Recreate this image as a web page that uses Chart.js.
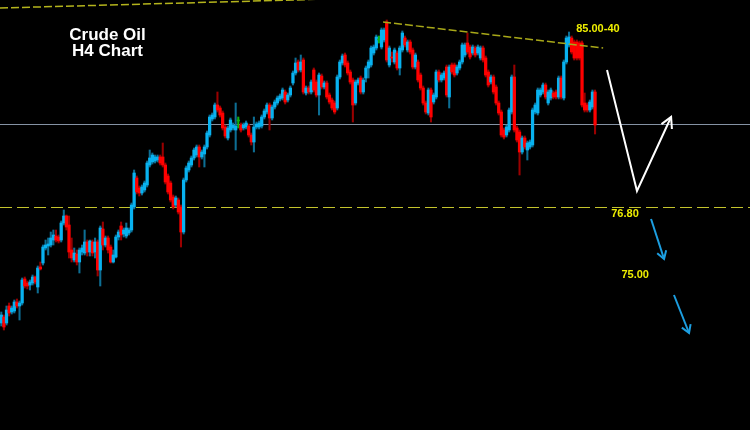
<!DOCTYPE html>
<html>
<head>
<meta charset="utf-8">
<title>Crude Oil H4 Chart</title>
<script src="https://cdn.jsdelivr.net/npm/chart.js@4.4.1/dist/chart.umd.min.js"></script>
<style>
  html, body { margin: 0; padding: 0; background: #000; }
  #wrap { width: 750px; height: 430px; position: relative; }
</style>
</head>
<body>
<div id="wrap"><canvas id="chart"></canvas></div>
<script>
// --- candle data (H4 bars) ---
const opens = [
  71.00, 71.30, 71.00, 71.85, 71.55, 71.60, 72.05, 71.85, 72.00, 73.20,
  73.00, 72.90, 73.00, 73.30, 72.80, 73.80, 74.00, 74.75, 74.85, 74.90,
  75.15, 75.35, 75.30, 75.15, 76.00, 76.35, 75.90, 74.65, 74.15, 74.45,
  74.05, 74.55, 74.50, 75.05, 74.55, 75.05, 74.55, 75.05, 73.65, 75.70,
  74.90, 75.25, 74.80, 74.05, 74.30, 75.30, 75.85, 75.45, 75.35, 75.50,
  75.65, 76.80, 78.25, 77.75, 77.50, 77.65, 77.90, 78.90, 79.05, 79.10,
  79.15, 79.30, 79.30, 78.90, 78.35, 78.00, 77.30, 76.90, 77.15, 76.80,
  75.55, 78.15, 78.65, 78.90, 79.25, 79.40, 79.80, 79.30, 79.45, 79.80,
  80.40, 81.20, 81.30, 81.90, 81.75, 81.50, 80.80, 80.25, 80.65, 80.75,
  80.65, 81.10, 80.90, 80.75, 80.80, 80.85, 80.40, 80.05, 80.80, 80.80,
  80.85, 81.30, 81.55, 81.90, 81.25, 81.80, 82.00, 82.20, 82.25, 82.55,
  82.15, 82.40, 83.00, 83.50, 84.05, 83.65, 84.15, 82.50, 82.75, 82.55,
  83.65, 83.05, 82.40, 83.35, 82.80, 83.00, 82.40, 82.15, 82.00, 81.75,
  83.30, 84.00, 84.40, 84.00, 83.55, 83.15, 82.00, 83.00, 83.25, 82.55,
  83.25, 83.75, 83.90, 84.50, 84.75, 85.15, 84.80, 85.15, 86.05, 83.90,
  84.30, 84.05, 84.50, 83.75, 84.65, 85.25, 84.65, 85.05, 84.65, 83.80,
  84.05, 83.40, 82.75, 82.00, 81.50, 82.65, 82.05, 82.30, 83.55, 83.15,
  83.25, 83.80, 82.30, 83.90, 83.90, 83.50, 83.75, 84.05, 84.40, 85.00,
  84.80, 84.50, 84.75, 84.50, 84.25, 84.75, 84.25, 83.55, 83.05, 83.30,
  82.80, 82.00, 81.55, 80.65, 80.40, 80.65, 81.55, 83.30, 80.75, 80.55,
  79.55, 80.25, 79.65, 79.80, 79.90, 81.55, 81.50, 82.40, 82.55, 82.90,
  82.00, 82.25, 82.50, 82.55, 82.30, 83.25, 82.25, 84.05, 84.90, 85.25,
  85.05, 85.05, 85.00, 85.00, 82.00, 81.90, 81.65, 81.80, 82.55
];
const highs = [
  71.55, 71.40, 71.85, 72.00, 71.85, 72.15, 72.20, 72.10, 73.25, 73.30,
  73.10, 73.15, 73.40, 73.35, 73.85, 74.05, 74.90, 75.15, 75.25, 75.55,
  75.65, 75.65, 75.40, 76.10, 76.65, 76.40, 76.35, 75.25, 74.75, 74.65,
  74.75, 74.90, 75.65, 75.15, 75.15, 75.15, 75.25, 75.15, 75.85, 76.05,
  75.35, 75.35, 74.90, 74.65, 75.40, 75.65, 76.05, 75.75, 76.00, 75.75,
  77.00, 78.65, 78.35, 77.85, 77.90, 78.10, 79.10, 79.65, 79.50, 79.40,
  79.40, 79.40, 80.00, 79.00, 78.45, 78.10, 77.40, 77.35, 77.25, 76.90,
  78.25, 78.85, 79.10, 79.35, 79.75, 79.90, 79.90, 79.65, 79.90, 80.60,
  81.40, 81.50, 82.00, 82.55, 81.85, 81.60, 80.90, 80.85, 81.25, 81.00,
  82.00, 81.30, 81.00, 81.00, 81.10, 80.95, 80.50, 81.30, 81.05, 81.10,
  81.40, 81.70, 82.00, 82.00, 81.90, 82.15, 82.35, 82.45, 82.75, 82.65,
  82.50, 82.85, 83.60, 84.25, 84.15, 84.40, 84.25, 82.85, 82.85, 83.15,
  83.75, 83.15, 83.50, 83.45, 83.10, 83.10, 82.50, 82.25, 82.10, 83.40,
  84.15, 84.45, 84.50, 84.10, 83.65, 83.25, 83.15, 83.25, 83.35, 83.25,
  83.85, 84.15, 84.85, 84.90, 85.40, 85.35, 85.75, 85.75, 86.15, 84.85,
  84.55, 84.75, 84.60, 84.85, 85.60, 85.35, 85.15, 85.15, 84.75, 84.50,
  84.15, 83.50, 82.85, 82.10, 82.75, 82.75, 82.50, 83.65, 83.65, 83.50,
  83.60, 83.90, 83.90, 84.00, 84.00, 83.90, 84.15, 85.00, 85.00, 85.50,
  84.90, 84.90, 84.85, 84.90, 84.85, 84.85, 84.35, 83.65, 83.40, 83.40,
  82.90, 82.10, 81.65, 80.75, 80.90, 81.75, 83.40, 83.90, 80.85, 80.65,
  80.35, 80.35, 80.10, 80.15, 81.75, 82.00, 82.75, 82.75, 83.00, 83.00,
  82.65, 82.75, 82.60, 82.65, 83.35, 83.35, 84.15, 85.35, 85.55, 85.35,
  85.15, 85.15, 85.10, 85.10, 82.50, 82.00, 82.15, 82.65, 82.65
];
const lows = [
  70.85, 70.65, 70.90, 71.35, 71.45, 71.50, 71.75, 71.15, 71.90, 72.75,
  72.70, 72.65, 72.90, 72.95, 72.50, 73.65, 73.90, 74.65, 74.40, 74.80,
  74.90, 75.05, 75.00, 75.05, 75.90, 75.65, 74.25, 74.05, 74.05, 73.90,
  73.50, 74.40, 74.40, 74.35, 74.35, 74.35, 74.25, 73.35, 72.85, 74.65,
  74.80, 74.50, 74.00, 74.00, 74.25, 75.15, 75.15, 75.30, 75.25, 75.40,
  75.55, 76.70, 77.45, 77.35, 77.40, 77.55, 77.80, 78.80, 78.95, 79.00,
  79.05, 78.90, 78.80, 77.95, 77.45, 77.05, 76.70, 76.80, 76.45, 74.80,
  75.45, 78.05, 78.55, 78.80, 79.15, 79.30, 78.80, 79.20, 78.80, 79.70,
  80.30, 81.10, 81.20, 81.55, 81.30, 80.65, 80.25, 80.15, 80.55, 80.65,
  79.65, 80.75, 80.55, 80.65, 80.70, 80.30, 79.90, 79.55, 80.70, 80.70,
  80.75, 81.20, 81.45, 80.65, 81.15, 81.70, 81.90, 82.10, 82.15, 81.95,
  82.05, 82.30, 82.90, 83.40, 83.55, 83.55, 82.45, 82.40, 82.45, 82.45,
  82.55, 82.30, 81.40, 82.70, 82.70, 82.20, 81.95, 81.65, 81.45, 81.65,
  83.20, 83.90, 83.80, 83.40, 82.95, 81.05, 81.90, 82.90, 82.45, 82.45,
  83.05, 83.25, 83.80, 84.40, 84.65, 85.00, 84.70, 85.05, 84.05, 83.80,
  84.05, 83.95, 83.65, 83.40, 84.55, 84.80, 84.55, 84.45, 83.70, 83.70,
  83.05, 82.65, 81.90, 81.45, 81.40, 81.05, 81.95, 82.20, 83.05, 83.05,
  83.15, 82.30, 81.75, 83.45, 83.30, 83.40, 83.65, 83.95, 84.30, 84.45,
  84.20, 84.40, 84.30, 84.40, 84.15, 84.05, 83.30, 82.80, 82.95, 82.45,
  81.90, 81.40, 80.30, 80.20, 80.30, 80.55, 81.45, 80.55, 80.05, 78.40,
  79.45, 79.70, 79.15, 79.70, 79.80, 81.45, 81.40, 82.30, 82.45, 82.20,
  81.90, 82.15, 82.20, 82.20, 82.20, 82.20, 82.15, 83.95, 84.80, 84.45,
  84.15, 84.15, 84.15, 81.80, 81.55, 81.55, 81.55, 81.70, 80.45
];
const closes = [
  71.40, 70.80, 71.65, 71.50, 71.75, 72.05, 71.85, 72.00, 73.15, 72.85,
  72.85, 73.05, 73.30, 73.05, 73.75, 73.70, 74.80, 74.90, 74.95, 75.25,
  75.40, 75.15, 75.10, 76.00, 76.35, 75.80, 74.55, 74.25, 74.50, 74.05,
  74.65, 74.75, 75.05, 74.55, 75.10, 74.50, 75.05, 73.65, 75.75, 74.90,
  75.25, 74.65, 74.05, 74.40, 75.30, 75.55, 75.40, 75.65, 75.75, 75.65,
  76.90, 78.50, 77.55, 77.50, 77.80, 78.00, 79.00, 79.25, 79.40, 79.30,
  79.30, 79.00, 78.90, 78.05, 77.55, 77.15, 76.80, 77.25, 76.55, 75.55,
  78.15, 78.75, 79.00, 79.25, 79.65, 79.80, 79.30, 79.55, 79.80, 80.50,
  81.30, 81.40, 81.90, 81.65, 81.40, 80.75, 80.35, 80.75, 81.15, 80.90,
  80.85, 81.10, 80.65, 80.90, 81.00, 80.40, 80.05, 80.80, 80.95, 81.00,
  81.30, 81.60, 81.90, 81.25, 81.80, 82.05, 82.25, 82.35, 82.65, 82.05,
  82.40, 82.75, 83.50, 84.00, 83.65, 84.05, 82.55, 82.75, 82.55, 83.05,
  82.65, 82.40, 83.40, 82.80, 83.00, 82.30, 82.05, 81.75, 81.55, 83.30,
  84.05, 84.35, 83.90, 83.50, 83.05, 81.90, 83.05, 83.15, 82.55, 83.15,
  83.75, 84.05, 84.75, 84.80, 85.30, 85.15, 85.65, 85.65, 84.15, 84.75,
  84.25, 84.65, 83.75, 84.75, 85.50, 84.90, 85.05, 84.55, 83.80, 84.40,
  83.15, 82.75, 82.00, 81.55, 82.65, 81.30, 82.40, 83.55, 83.15, 83.40,
  83.50, 82.40, 83.80, 83.55, 83.40, 83.80, 84.05, 84.90, 84.90, 84.55,
  84.30, 84.80, 84.40, 84.80, 84.75, 84.15, 83.40, 82.90, 83.30, 82.55,
  82.00, 81.50, 80.40, 80.30, 80.80, 81.65, 83.30, 80.65, 80.15, 79.55,
  80.25, 79.80, 80.00, 80.05, 81.65, 81.90, 82.65, 82.65, 82.90, 82.30,
  82.55, 82.65, 82.30, 82.30, 83.25, 82.30, 84.05, 85.25, 85.30, 84.55,
  84.25, 84.25, 84.25, 81.90, 81.65, 81.65, 82.05, 82.55, 80.90
];

// --- levels and drawings, in (bar index, price) ---
const SLOTS = 288;                 // bar slots across the whole window
const priceMin = 65.65, priceMax = 87.15;
const pivotLevel = 80.95;          // thin grey line
const supportLevel = 76.80;        // dashed yellow line
const topTrend = [[-0.5, 86.75], [140, 87.25]];
const resistance = [[146.6, 86.05], [231.1, 84.75]];
const whitePath = [[232.6, 83.65], [244.1, 77.60], [257.2, 81.30]];
const blueArrows = [
  [[249.5, 76.20], [254.5, 74.20]],
  [[258.3, 72.40], [264.1, 70.50]]
];
const priceLabels = [
  { text: '85.00-40', bar: 229.1, price: 85.70 },
  { text: '76.80', bar: 239.5, price: 76.45 },
  { text: '75.00', bar: 243.4, price: 73.40 }
];
const titleLines = ['Crude Oil', 'H4 Chart'];

const UP = '#08b2f0', DOWN = '#ff0000', DOJI = '#10b010';
const UP_WICK = '#0d6e94', DOWN_WICK = '#9a0000';

function candleDir(i) {
  if (closes[i] > opens[i]) return 1;
  if (closes[i] < opens[i]) return -1;
  return 0;
}

function arrowHead(ctx, from, to, len, spread) {
  const ang = Math.atan2(from[1] - to[1], from[0] - to[0]);
  ctx.beginPath();
  ctx.moveTo(to[0] + len * Math.cos(ang + spread), to[1] + len * Math.sin(ang + spread));
  ctx.lineTo(to[0], to[1]);
  ctx.lineTo(to[0] + len * Math.cos(ang - spread), to[1] + len * Math.sin(ang - spread));
  ctx.stroke();
}

const overlay = {
  id: 'overlay',
  beforeDatasetsDraw(chart) {
    const { ctx, scales: { x, y } } = chart;
    ctx.save();
    // grey pivot line
    const gy = Math.round(y.getPixelForValue(pivotLevel)) + 0.5;
    ctx.strokeStyle = '#8592a4';
    ctx.lineWidth = 1;
    ctx.beginPath(); ctx.moveTo(0, gy); ctx.lineTo(chart.width, gy); ctx.stroke();
    // 76.80 support, dashed
    const sy = Math.round(y.getPixelForValue(supportLevel)) + 0.5;
    ctx.strokeStyle = '#c4c42c';
    ctx.setLineDash([12, 5]);
    ctx.beginPath(); ctx.moveTo(0, sy); ctx.lineTo(chart.width, sy); ctx.stroke();
    ctx.restore();
  },
  afterDatasetsDraw(chart) {
    const { ctx, scales: { x, y } } = chart;
    const pt = ([b, p]) => [x.getPixelForValue(b), y.getPixelForValue(p)];
    ctx.save();

    // trend lines
    ctx.setLineDash([8, 3]);
    ctx.lineWidth = 1.5;
    for (const [line, col] of [[topTrend, '#b4b41c'], [resistance, '#a8a818']]) {
      const a = pt(line[0]), b = pt(line[1]);
      ctx.strokeStyle = col;
      ctx.beginPath(); ctx.moveTo(a[0], a[1]); ctx.lineTo(b[0], b[1]); ctx.stroke();
    }
    ctx.setLineDash([]);

    // white scenario path
    ctx.strokeStyle = '#ffffff';
    ctx.lineWidth = 2;
    ctx.lineJoin = 'miter';
    const wp = whitePath.map(pt);
    ctx.beginPath();
    wp.forEach((p, i) => i ? ctx.lineTo(p[0], p[1]) : ctx.moveTo(p[0], p[1]));
    ctx.stroke();
    arrowHead(ctx, wp[1], wp[2], 12, 0.5);

    // blue down arrows
    ctx.strokeStyle = '#1c9ee0';
    for (const arr of blueArrows) {
      const a = pt(arr[0]), b = pt(arr[1]);
      ctx.beginPath(); ctx.moveTo(a[0], a[1]); ctx.lineTo(b[0], b[1]); ctx.stroke();
      arrowHead(ctx, a, b, 9, 0.55);
    }

    // price labels
    ctx.fillStyle = '#eeee00';
    ctx.font = "bold 11px 'Liberation Sans', Arial, sans-serif";
    ctx.textAlign = 'center';
    ctx.textBaseline = 'middle';
    for (const l of priceLabels) {
      const p = pt([l.bar, l.price]);
      ctx.fillText(l.text, p[0], p[1]);
    }

    // title
    ctx.fillStyle = '#ffffff';
    ctx.font = "bold 17px 'Liberation Sans', Arial, sans-serif";
    ctx.textBaseline = 'alphabetic';
    ctx.fillText(titleLines[0], 107.5, 40);
    ctx.fillText(titleLines[1], 107.5, 56);
    ctx.restore();
  }
};

const slotLabels = Array.from({ length: SLOTS }, (_, i) => i);

new Chart(document.getElementById('chart'), {
  type: 'bar',
  data: {
    labels: slotLabels,
    datasets: [
      {
        label: 'body',
        data: opens.map((o, i) => [o, closes[i]]),
        backgroundColor: c => [DOWN, DOJI, UP][candleDir(c.dataIndex) + 1],
        barThickness: 2.6,
        minBarLength: 1,
        grouped: false,
        order: 0
      },
      {
        label: 'wick',
        data: lows.map((l, i) => [l, highs[i]]),
        backgroundColor: c => [DOWN_WICK, DOJI, UP_WICK][candleDir(c.dataIndex) + 1],
        barThickness: 1.4,
        grouped: false,
        order: 1
      }
    ]
  },
  options: {
    responsive: true,
    maintainAspectRatio: false,
    animation: false,
    devicePixelRatio: 1,
    layout: { padding: 0 },
    scales: {
      x: { display: false, offset: true, grid: { display: false } },
      y: { display: false, min: priceMin, max: priceMax, grid: { display: false } }
    },
    plugins: {
      legend: { display: false },
      tooltip: { enabled: false }
    }
  },
  plugins: [overlay]
});
</script>
</body>
</html>
